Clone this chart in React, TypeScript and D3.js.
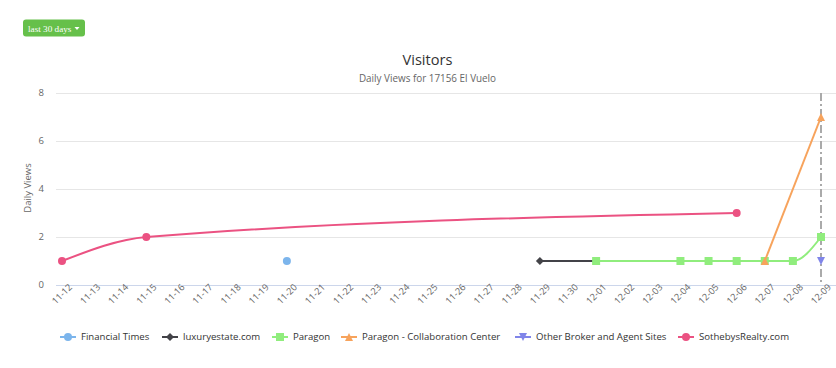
import React from 'react';
import * as d3 from 'd3';

const YEAR = 2016;
const firstDay = '11-12';
const lastDay = '12-09';
const yTicks = [0, 2, 4, 6, 8];

const seriesNames = [
  'Financial Times',
  'luxuryestate.com',
  'Paragon',
  'Paragon - Collaboration Center',
  'Other Broker and Agent Sites',
  'SothebysRealty.com',
];
const seriesColors = ['#7cb5ec', '#434348', '#90ed7d', '#f7a35c', '#8085e9', '#eb5282'];
const seriesSymbols = ['circle', 'diamond', 'square', 'triangle', 'triangle-down', 'circle'];

const financialTimesDates = ['11-20'];
const financialTimesValues = [1];
const luxuryDates = ['11-29', '12-01'];
const luxuryValues = [1, 1];
const paragonDates = ['12-01', '12-04', '12-05', '12-06', '12-07', '12-08', '12-09'];
const paragonValues = [1, 1, 1, 1, 1, 1, 2];
const collabDates = ['12-07', '12-09'];
const collabValues = [1, 7];
const otherDates = ['12-09'];
const otherValues = [1];
const sothebysDates = ['11-12', '11-15', '12-06'];
const sothebysValues = [1, 2, 3];

const crosshairDay = '12-09';

// layout
const W = 836;
const H = 368;
const plotLeft = 56;
const plotRight = 836;
const xStart = 62;
const xEnd = 821;
const yTop = 93;
const yBottom = 285;
const legendY = 337;
const legendX = [60, 162, 272, 341, 515, 678];
const FONT = '"Open Sans", "Noto Sans", sans-serif';

const parse = d3.utcParse('%Y-%m-%d');
const toDate = (s: string) => parse(`${YEAR}-${s}`) as Date;

const seriesData = [
  [financialTimesDates, financialTimesValues],
  [luxuryDates, luxuryValues],
  [paragonDates, paragonValues],
  [collabDates, collabValues],
  [otherDates, otherValues],
  [sothebysDates, sothebysValues],
].map(([ds, vs]) => (ds as string[]).map((d, i) => ({ date: toDate(d), value: (vs as number[])[i] })));

function symbolPath(kind: string, x: number, y: number, r = 4): string {
  const p = d3.path();
  if (kind === 'circle') {
    p.arc(x, y, r, 0, Math.PI * 2);
  } else if (kind === 'square') {
    p.rect(x - r, y - r, 2 * r, 2 * r);
  } else if (kind === 'diamond') {
    p.moveTo(x, y - r);
    p.lineTo(x + r, y);
    p.lineTo(x, y + r);
    p.lineTo(x - r, y);
    p.closePath();
  } else if (kind === 'triangle') {
    p.moveTo(x, y - r);
    p.lineTo(x + r, y + r);
    p.lineTo(x - r, y + r);
    p.closePath();
  } else {
    p.moveTo(x - r, y - r);
    p.lineTo(x + r, y - r);
    p.lineTo(x, y + r);
    p.closePath();
  }
  return p.toString();
}

export default function App() {
  const x = d3.scaleUtc().domain([toDate(firstDay), toDate(lastDay)]).range([xStart, xEnd]);
  const y = d3.scaleLinear().domain([0, 8]).range([yBottom, yTop]);
  const xTicks = d3.utcDay.range(toDate(firstDay), d3.utcDay.offset(toDate(lastDay), 1));
  const fmt = d3.utcFormat('%m-%d');
  const line = d3
    .line<{ date: Date; value: number }>()
    .x((d) => x(d.date))
    .y((d) => y(d.value))
    .curve(d3.curveMonotoneX);
  const cx = x(toDate(crosshairDay));

  return (
    <svg
      width={W}
      height={H}
      style={{ position: 'absolute', left: 0, top: 0, background: '#fff' }}
      fontFamily={FONT}
    >
      {/* button */}
      <rect x={23} y={19.5} width={62} height={17} rx={3} fill="#66c04a" />
      <text x={28} y={31.5} fill="#fff" fontFamily="'Liberation Serif', serif" fontSize={9.2}>
        last 30 days
      </text>
      <path d="M74.5,27 L79.5,27 L77,30 Z" fill="#fff" />

      {/* titles */}
      <text x={427.5} y={65} textAnchor="middle" fontSize={14.6} fill="#333">
        Visitors
      </text>
      <text x={427.5} y={82} textAnchor="middle" fontSize={9.9} fill="#666">
        Daily Views for 17156 El Vuelo
      </text>

      {/* grid */}
      {yTicks.map((t) => (
        <g key={t}>
          <line x1={plotLeft} x2={plotRight} y1={y(t) + 0.5} y2={y(t) + 0.5} stroke="#e6e6e6" />
          <text x={44} y={y(t)} dy="0.35em" textAnchor="end" fontSize={9.5} fill="#666">
            {t}
          </text>
        </g>
      ))}
      <line x1={plotLeft} x2={plotRight} y1={yBottom + 0.5} y2={yBottom + 0.5} stroke="#ccd6eb" />
      <text
        transform={`translate(28,188) rotate(-90)`}
        textAnchor="middle"
        dy="0.35em"
        fontSize={9.5}
        fill="#666"
      >
        Daily Views
      </text>

      {/* x tick labels */}
      {xTicks.map((d) => (
        <text
          key={d.getTime()}
          transform={`translate(${x(d)},294) rotate(-45)`}
          textAnchor="middle"
          dy="0.35em"
          fontSize={9.2}
          fill="#666"
        >
          {fmt(d)}
        </text>
      ))}

      {/* crosshair */}
      <line
        x1={cx}
        x2={cx}
        y1={yTop}
        y2={yBottom}
        stroke="#aaa"
        strokeWidth={2}
        strokeDasharray="8 3 2 3"
      />

      {/* series */}
      {seriesData.map((pts, i) => (
        <g key={i}>
          {pts.length > 1 && (
            <path d={line(pts) || ''} fill="none" stroke={seriesColors[i]} strokeWidth={2} />
          )}
          {pts.map((p, j) => (
            <path key={j} d={symbolPath(seriesSymbols[i], x(p.date), y(p.value))} fill={seriesColors[i]} />
          ))}
        </g>
      ))}

      {/* legend */}
      {seriesNames.map((name, i) => (
        <g key={name}>
          <line
            x1={legendX[i]}
            x2={legendX[i] + 16}
            y1={legendY}
            y2={legendY}
            stroke={seriesColors[i]}
            strokeWidth={2}
          />
          <path d={symbolPath(seriesSymbols[i], legendX[i] + 8, legendY)} fill={seriesColors[i]} />
          <text x={legendX[i] + 21} y={legendY} dy="0.35em" fontSize={9.6} fill="#333">
            {name}
          </text>
        </g>
      ))}
    </svg>
  );
}
